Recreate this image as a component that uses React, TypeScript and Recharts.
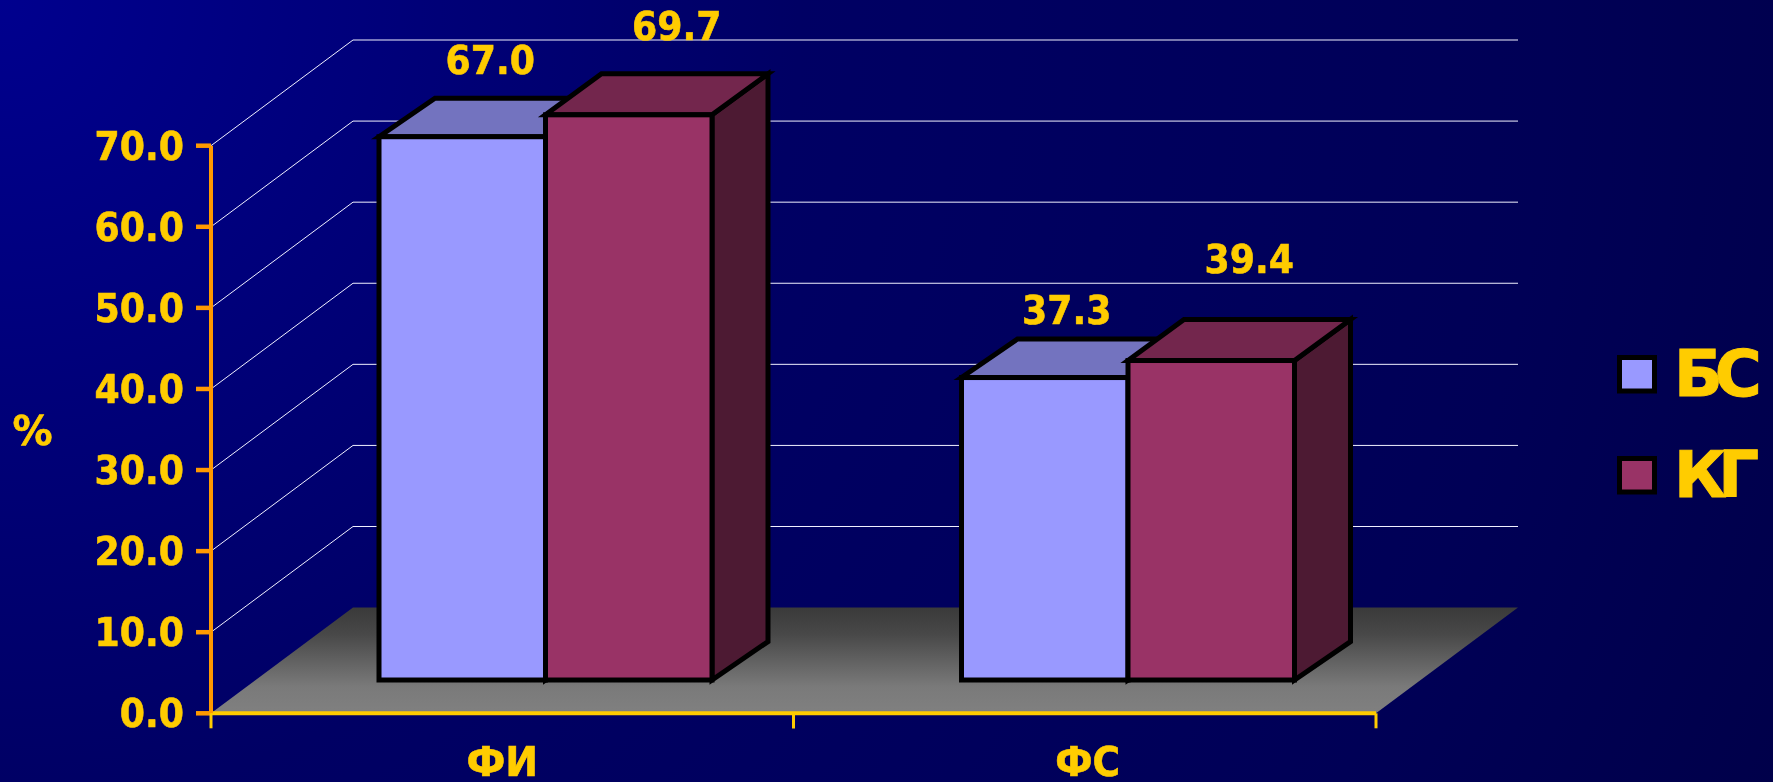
import React from 'react';
import { BarChart, Bar, XAxis, YAxis, CartesianGrid, LabelList, Legend, Label } from 'recharts';

const categories = ['ФИ', 'ФС'];
const bsValues = [67.0, 37.3];
const kgValues = [69.7, 39.4];
const yTicks = [0, 10, 20, 30, 40, 50, 60, 70];

const rows = categories.map((name, i) => ({ name, bs: bsValues[i], kg: kgValues[i] }));

const W = 1773;
const H = 782;
const PLOT_LEFT = 211;
const PLOT_RIGHT = 1376;
const PLOT_TOP = 145.7;
const PLOT_BOTTOM = 713.3;

// Oblique projection of the room and of the column blocks
const ROOM_DX = 142;
const ROOM_DY = 105.7;
const BAR_SHIFT_X = 43;
const BAR_SHIFT_Y = 33.3;
const BAR_DX = 56;
const BAR_BASE_DY = 38.4;
const BAR_WIDTH = 166.5;

const GOLD = '#FFCC00';
const ORANGE = '#FF9900';
const FONT = '"DejaVu Sans", Verdana, sans-serif';

type LabelNudge = { dx: number; baseline: number };
// Label position relative to each column's front top edge
const bsNudges: LabelNudge[] = [{ dx: 28, baseline: -62.7 }, { dx: 22, baseline: -53.5 }];
const kgNudges: LabelNudge[] = [{ dx: 48, baseline: -74.7 }, { dx: 38, baseline: -88 }];
// Small per-category tweak of the axis captions
const captionNudge = [0, 3];
const captionSqueeze = [0.98, 0.94];

function Squeezed({ x, y, sx = 0.93, anchor = 'middle', size = 39, children }: any) {
  return (
    <text
      transform={`translate(${x},${y}) scale(${sx},1)`}
      textAnchor={anchor}
      fontFamily={FONT}
      fontWeight="bold"
      fontSize={size}
      fill={GOLD}
      stroke={GOLD}
      strokeWidth={0.6}
    >
      {children}
    </text>
  );
}

function block(topFill: string, sideFill: string, topDy: number) {
  return (props: any) => {
    const { x, y, width, height, fill } = props;
    const fx = x + BAR_SHIFT_X;
    const fy = y - BAR_SHIFT_Y;
    const common = { stroke: '#000', strokeWidth: 5 };
    return (
      <g>
        <path
          d={`M${fx + width} ${fy} L${fx + width + BAR_DX} ${fy - topDy} V${fy + height - BAR_BASE_DY} L${fx + width} ${fy + height} Z`}
          fill={sideFill}
          {...common}
        />
        <path
          d={`M${fx} ${fy} L${fx + BAR_DX} ${fy - topDy} H${fx + width + BAR_DX} L${fx + width} ${fy} Z`}
          fill={topFill}
          {...common}
        />
        <rect x={fx} y={fy} width={width} height={height} fill={fill} {...common} />
      </g>
    );
  };
}

function valueLabel(nudges: LabelNudge[]) {
  return (props: any) => {
    const { x, y, width, index, value } = props;
    const n = nudges[index];
    return (
      <Squeezed x={x + BAR_SHIFT_X + width / 2 + n.dx} y={y - BAR_SHIFT_Y + n.baseline}>
        {Number(value).toFixed(1)}
      </Squeezed>
    );
  };
}

function RoomLine(props: any) {
  const { x1, x2, y1 } = props;
  if (Math.abs(y1 - PLOT_BOTTOM) < 1) {
    return (
      <path
        d={`M${x1} ${y1} L${x1 + ROOM_DX} ${y1 - ROOM_DY} H${x2 + ROOM_DX} L${x2} ${y1} Z`}
        fill="url(#floorShade)"
      />
    );
  }
  return (
    <path
      d={`M${x1} ${y1} L${x1 + ROOM_DX} ${y1 - ROOM_DY} H${x2 + ROOM_DX}`}
      fill="none"
      stroke="#F0F0FF"
      strokeWidth={1}
    />
  );
}

function CategoryTick(props: any) {
  const { x, payload, index } = props;
  const half = (PLOT_RIGHT - PLOT_LEFT) / categories.length / 2;
  return (
    <g>
      <path d={`M${x - half} ${PLOT_BOTTOM} V${PLOT_BOTTOM + 15}`} stroke={GOLD} strokeWidth={3} />
      <path d={`M${x + half} ${PLOT_BOTTOM} V${PLOT_BOTTOM + 15}`} stroke={GOLD} strokeWidth={3} />
      <Squeezed x={x + captionNudge[index]} y={776} size={40} sx={captionSqueeze[index]}>
        {payload.value}
      </Squeezed>
    </g>
  );
}

function ValueTick(props: any) {
  const { x, y, payload } = props;
  return (
    <Squeezed x={x} y={y + 14} anchor="end">
      {Number(payload.value).toFixed(1)}
    </Squeezed>
  );
}

function SeriesKey({ payload }: any) {
  return (
    <svg width={175} height={200} style={{ display: 'block' }}>
      {(payload || []).map((entry: any, i: number) => (
        <g key={entry.value} transform={`translate(0,${i * 101})`}>
          <rect x={21.5} y={20.5} width={35} height={33.5} fill={entry.color} stroke="#000" strokeWidth={5} />
          <text
            x={76}
            y={58.7}
            fontFamily={FONT}
            fontWeight="bold"
            fontSize={64}
            letterSpacing={-8}
            fill={GOLD}
            stroke={GOLD}
            strokeWidth={1}
          >
            {entry.value}
          </text>
        </g>
      ))}
    </svg>
  );
}

export default function App() {
  return (
    <div
      style={{
        position: 'fixed',
        left: 0,
        top: 0,
        width: W,
        height: H,
        overflow: 'hidden',
        background:
          'radial-gradient(circle at 0 0, #00008E 0, #000078 420px, #000064 800px, #000056 1550px, #00004A 1940px)',
      }}
    >
      <BarChart
        width={W}
        height={H}
        data={rows}
        barSize={BAR_WIDTH}
        barGap={0}
        margin={{ top: PLOT_TOP, bottom: 0, left: PLOT_LEFT - 100, right: W - PLOT_RIGHT }}
      >
        <defs>
          <linearGradient id="floorShade" x1="0" y1="0" x2="0" y2="1">
            <stop offset="0%" stopColor="#3A3A3A" />
            <stop offset="25%" stopColor="#484848" />
            <stop offset="75%" stopColor="#7A7A7A" />
            <stop offset="100%" stopColor="#808080" />
          </linearGradient>
        </defs>
        <CartesianGrid vertical={false} horizontal={RoomLine as any} />
        <XAxis
          dataKey="name"
          axisLine={{ stroke: GOLD, strokeWidth: 4 }}
          tickLine={false}
          tick={CategoryTick as any}
          height={H - PLOT_BOTTOM}
          interval={0}
        />
        <YAxis
          width={100}
          domain={[0, 70]}
          ticks={yTicks}
          interval={0}
          axisLine={{ stroke: ORANGE, strokeWidth: 4 }}
          tickLine={{ stroke: ORANGE, strokeWidth: 4.5 }}
          tickSize={15}
          tickMargin={12}
          tick={ValueTick as any}
        >
          <Label
            content={() => (
              <Squeezed x={32.5} y={445} sx={1} size={40}>
                %
              </Squeezed>
            )}
          />
        </YAxis>
        <Legend
          layout="horizontal"
          align="center"
          verticalAlign="middle"
          wrapperStyle={{ position: 'absolute', left: 1598, top: 337, width: 175 }}
          content={SeriesKey as any}
        />
        <Bar dataKey="bs" name="БС" fill="#9999FF" isAnimationActive={false} shape={block('#7373BF', '#5C5C99', 38.5)}>
          <LabelList dataKey="bs" content={valueLabel(bsNudges) as any} />
        </Bar>
        <Bar dataKey="kg" name="КГ" fill="#993366" isAnimationActive={false} shape={block('#73264D', '#4D1A33', 41)}>
          <LabelList dataKey="kg" content={valueLabel(kgNudges) as any} />
        </Bar>
      </BarChart>
    </div>
  );
}
